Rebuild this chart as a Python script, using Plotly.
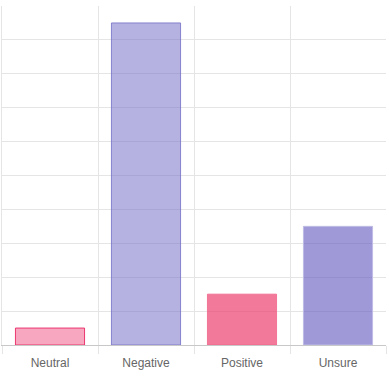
import plotly.graph_objects as go

categories = ["Neutral", "Negative", "Positive", "Unsure"]
values = [0.5, 9.5, 1.5, 3.5]
fill_colors = ["rgba(240,80,130,0.5)", "rgba(121,115,200,0.55)",
               "rgba(236,64,110,0.7)", "rgba(100,92,190,0.62)"]
line_colors = ["rgba(232,40,100,0.9)", "rgba(121,115,200,0.85)",
               "rgba(240,100,140,0.8)", "rgba(190,187,230,1)"]

fig = go.Figure(go.Bar(
    x=categories, y=values,
    marker=dict(color=fill_colors, line=dict(color=line_colors, width=1)),
    hoverinfo="x+y",
))

fig.update_layout(
    width=389, height=391,
    margin=dict(l=2, r=3, t=6, b=46),
    paper_bgcolor="white", plot_bgcolor="white",
    bargap=0.28,
    showlegend=False,
    font=dict(family="Liberation Sans, Arial, sans-serif", size=12, color="#666666"),
)
fig.update_xaxes(
    type="category", tickson="boundaries",
    showgrid=True, gridcolor="#e5e5e5", gridwidth=1,
    ticks="outside", ticklen=8, tickcolor="#e5e5e5",
    showline=True, linecolor="#c8c8c8", linewidth=1,
    tickfont=dict(size=12, color="#666666"),
    ticklabelstandoff=7,
    fixedrange=True,
)
fig.update_yaxes(
    range=[0, 10], dtick=1,
    showgrid=True, gridcolor="#e5e5e5", gridwidth=1,
    showticklabels=False, zeroline=False,
    showline=True, linecolor="#e5e5e5",
    fixedrange=True,
)

fig.write_html("out.html", config={"displayModeBar": False},
               post_script="document.body.style.margin='0';")
